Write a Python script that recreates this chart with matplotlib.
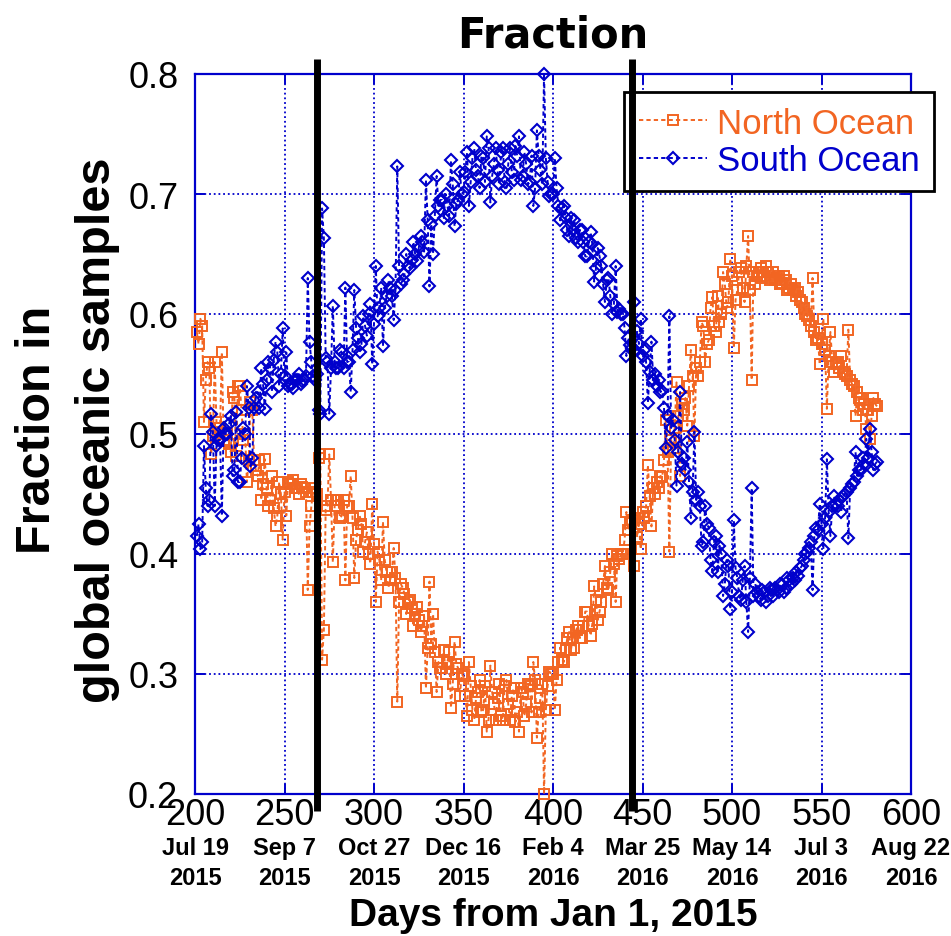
import matplotlib
matplotlib.use("Agg")
import matplotlib.pyplot as plt
import matplotlib.transforms as mtransforms

# Daily samples, days from Jan 1, 2015
days = list(range(201, 582))

# Fraction of samples from the northern ocean (one row per 10 days)
north = [
    0.585, 0.575, 0.596, 0.590, 0.510, 0.545, 0.560, 0.555, 0.483, 0.498,
    0.560, 0.510, 0.505, 0.505, 0.568, 0.495, 0.500, 0.500, 0.492, 0.485,
    0.535, 0.530, 0.482, 0.540, 0.540, 0.520, 0.495, 0.500, 0.460, 0.478,
    0.527, 0.520, 0.478, 0.470, 0.465, 0.478, 0.445, 0.458, 0.479, 0.455,
    0.440, 0.445, 0.465, 0.438, 0.423, 0.432, 0.460, 0.450, 0.412, 0.452,
    0.432, 0.460, 0.458, 0.458, 0.462, 0.455, 0.455, 0.450, 0.458, 0.456,
    0.455, 0.452, 0.370, 0.423, 0.440, 0.452, 0.455, 0.450, 0.480, 0.483,
    0.312, 0.337, 0.437, 0.440, 0.483, 0.445, 0.393, 0.440, 0.445, 0.445,
    0.430, 0.432, 0.445, 0.378, 0.440, 0.440, 0.465, 0.430, 0.380, 0.412,
    0.420, 0.432, 0.425, 0.402, 0.410, 0.418, 0.400, 0.392, 0.442, 0.408,
    0.360, 0.402, 0.395, 0.378, 0.427, 0.395, 0.385, 0.372, 0.378, 0.385,
    0.405, 0.380, 0.277, 0.360, 0.375, 0.372, 0.367, 0.350, 0.360, 0.362,
    0.355, 0.340, 0.350, 0.356, 0.345, 0.335, 0.340, 0.348, 0.288, 0.322,
    0.377, 0.325, 0.350, 0.318, 0.285, 0.310, 0.305, 0.305, 0.320, 0.300,
    0.310, 0.318, 0.272, 0.292, 0.327, 0.308, 0.305, 0.282, 0.300, 0.298,
    0.282, 0.265, 0.310, 0.290, 0.270, 0.262, 0.280, 0.285, 0.295, 0.268,
    0.270, 0.290, 0.252, 0.262, 0.307, 0.285, 0.275, 0.262, 0.280, 0.292,
    0.265, 0.262, 0.290, 0.295, 0.275, 0.262, 0.282, 0.288, 0.260, 0.268,
    0.252, 0.288, 0.285, 0.265, 0.275, 0.292, 0.290, 0.268, 0.310, 0.295,
    0.247, 0.268, 0.280, 0.292, 0.200, 0.270, 0.290, 0.302, 0.300, 0.300,
    0.270, 0.295, 0.310, 0.322, 0.312, 0.310, 0.320, 0.330, 0.335, 0.320,
    0.330, 0.322, 0.337, 0.340, 0.330, 0.330, 0.340, 0.352, 0.352, 0.340,
    0.332, 0.342, 0.373, 0.362, 0.345, 0.352, 0.360, 0.375, 0.390, 0.372,
    0.370, 0.385, 0.400, 0.392, 0.360, 0.398, 0.396, 0.400, 0.400, 0.412,
    0.435, 0.420, 0.426, 0.428, 0.390, 0.430, 0.414, 0.425, 0.404, 0.435,
    0.430, 0.440, 0.474, 0.448, 0.423, 0.455, 0.450, 0.460, 0.455, 0.465,
    0.464, 0.478, 0.512, 0.485, 0.402, 0.495, 0.488, 0.505, 0.543, 0.515,
    0.465, 0.525, 0.520, 0.530, 0.507, 0.540, 0.570, 0.548, 0.498, 0.555,
    0.548, 0.560, 0.593, 0.590, 0.560, 0.575, 0.578, 0.605, 0.614, 0.590,
    0.585, 0.615, 0.593, 0.600, 0.635, 0.625, 0.605, 0.610, 0.646, 0.632,
    0.572, 0.612, 0.620, 0.635, 0.638, 0.622, 0.610, 0.640, 0.665, 0.620,
    0.545, 0.635, 0.625, 0.632, 0.635, 0.638, 0.630, 0.632, 0.640, 0.635,
    0.628, 0.630, 0.635, 0.628, 0.630, 0.632, 0.625, 0.626, 0.632, 0.628,
    0.620, 0.622, 0.625, 0.620, 0.622, 0.615, 0.618, 0.612, 0.610, 0.605,
    0.600, 0.598, 0.595, 0.590, 0.630, 0.585, 0.578, 0.580, 0.558, 0.575,
    0.596, 0.570, 0.521, 0.565, 0.585, 0.560, 0.552, 0.558, 0.560, 0.555,
    0.565, 0.552, 0.550, 0.548, 0.587, 0.545, 0.542, 0.540, 0.515, 0.535,
    0.530, 0.530, 0.520, 0.525, 0.504, 0.520, 0.496, 0.515, 0.530, 0.525,
    0.523,
]

# Fraction of samples from the southern ocean (one row per 10 days)
south = [
    0.415, 0.425, 0.404, 0.410, 0.490, 0.455, 0.440, 0.445, 0.517, 0.502,
    0.440, 0.490, 0.495, 0.495, 0.432, 0.505, 0.500, 0.500, 0.508, 0.515,
    0.465, 0.470, 0.518, 0.460, 0.460, 0.480, 0.505, 0.500, 0.540, 0.522,
    0.473, 0.480, 0.522, 0.530, 0.535, 0.522, 0.555, 0.542, 0.521, 0.545,
    0.560, 0.555, 0.535, 0.562, 0.577, 0.568, 0.540, 0.550, 0.588, 0.548,
    0.568, 0.540, 0.542, 0.542, 0.538, 0.545, 0.545, 0.550, 0.542, 0.544,
    0.545, 0.548, 0.630, 0.577, 0.560, 0.548, 0.545, 0.550, 0.520, 0.517,
    0.688, 0.663, 0.563, 0.560, 0.517, 0.555, 0.607, 0.560, 0.555, 0.555,
    0.570, 0.568, 0.555, 0.622, 0.560, 0.560, 0.535, 0.570, 0.620, 0.588,
    0.580, 0.568, 0.575, 0.598, 0.590, 0.582, 0.600, 0.608, 0.558, 0.592,
    0.640, 0.598, 0.605, 0.622, 0.573, 0.605, 0.615, 0.628, 0.622, 0.615,
    0.595, 0.620, 0.723, 0.640, 0.625, 0.628, 0.633, 0.650, 0.640, 0.638,
    0.645, 0.660, 0.650, 0.644, 0.655, 0.665, 0.660, 0.652, 0.712, 0.678,
    0.623, 0.675, 0.650, 0.682, 0.715, 0.690, 0.695, 0.695, 0.680, 0.700,
    0.690, 0.682, 0.728, 0.708, 0.673, 0.692, 0.695, 0.718, 0.700, 0.702,
    0.718, 0.735, 0.690, 0.710, 0.730, 0.738, 0.720, 0.715, 0.705, 0.732,
    0.730, 0.710, 0.748, 0.738, 0.693, 0.715, 0.725, 0.738, 0.720, 0.708,
    0.735, 0.738, 0.710, 0.705, 0.725, 0.738, 0.718, 0.712, 0.740, 0.732,
    0.748, 0.712, 0.715, 0.735, 0.725, 0.708, 0.710, 0.732, 0.690, 0.705,
    0.753, 0.732, 0.720, 0.708, 0.800, 0.730, 0.710, 0.698, 0.700, 0.700,
    0.730, 0.705, 0.690, 0.678, 0.688, 0.690, 0.680, 0.670, 0.665, 0.680,
    0.670, 0.678, 0.663, 0.660, 0.670, 0.670, 0.660, 0.648, 0.648, 0.660,
    0.668, 0.658, 0.627, 0.638, 0.655, 0.648, 0.640, 0.625, 0.610, 0.628,
    0.630, 0.615, 0.600, 0.608, 0.640, 0.602, 0.604, 0.600, 0.600, 0.588,
    0.565, 0.580, 0.574, 0.572, 0.610, 0.570, 0.586, 0.575, 0.596, 0.565,
    0.570, 0.560, 0.526, 0.552, 0.577, 0.545, 0.550, 0.540, 0.545, 0.535,
    0.536, 0.522, 0.488, 0.515, 0.598, 0.505, 0.512, 0.495, 0.457, 0.485,
    0.535, 0.475, 0.480, 0.470, 0.493, 0.460, 0.430, 0.452, 0.502, 0.445,
    0.452, 0.440, 0.407, 0.410, 0.440, 0.425, 0.422, 0.395, 0.386, 0.410,
    0.415, 0.385, 0.407, 0.400, 0.365, 0.375, 0.395, 0.390, 0.354, 0.368,
    0.428, 0.388, 0.380, 0.365, 0.362, 0.378, 0.390, 0.360, 0.335, 0.380,
    0.455, 0.365, 0.375, 0.368, 0.365, 0.362, 0.370, 0.368, 0.360, 0.365,
    0.372, 0.370, 0.365, 0.372, 0.370, 0.368, 0.375, 0.374, 0.368, 0.372,
    0.380, 0.378, 0.375, 0.380, 0.378, 0.385, 0.382, 0.388, 0.390, 0.395,
    0.400, 0.402, 0.405, 0.410, 0.370, 0.415, 0.422, 0.420, 0.442, 0.425,
    0.404, 0.430, 0.479, 0.435, 0.415, 0.440, 0.448, 0.442, 0.440, 0.445,
    0.435, 0.448, 0.450, 0.452, 0.413, 0.455, 0.458, 0.460, 0.485, 0.465,
    0.470, 0.470, 0.480, 0.475, 0.496, 0.480, 0.504, 0.485, 0.470, 0.475,
    0.477,
]

x_ticks = [200, 250, 300, 350, 400, 450, 500, 550, 600]
date_lines = ["Jul 19", "Sep 7", "Oct 27", "Dec 16", "Feb 4",
              "Mar 25", "May 14", "Jul 3", "Aug 22"]
year_lines = ["2015", "2015", "2015", "2015", "2016",
              "2016", "2016", "2016", "2016"]
y_ticks = [0.2, 0.3, 0.4, 0.5, 0.6, 0.7, 0.8]
y_tick_labels = ["0.2", "0.3", "0.4", "0.5", "0.6", "0.7", "0.8"]
boundary_days = [268, 444]

ORANGE = "#f26522"
BLUE = "#0000cc"
SANS = ["Liberation Sans", "DejaVu Sans"]

W, H = 951, 937
fig = plt.figure(figsize=(W / 100, H / 100), dpi=100)
ax = fig.add_axes([195 / W, 1 - 795 / H, (911 - 195) / W, 720 / H])

ax.set_xlim(200, 600)
ax.set_ylim(0.2, 0.8)

ln_n, = ax.plot(days, north, color=ORANGE, lw=1.4, ls=(0, (2.2, 1.6)),
                marker="s", ms=7, mfc="none", mec=ORANGE, mew=1.4,
                label="North Ocean", zorder=3, clip_on=False)
ln_s, = ax.plot(days, south, color=BLUE, lw=1.4, ls=(0, (2.2, 1.6)),
                marker="D", ms=5.8, mfc="none", mec=BLUE, mew=1.5,
                label="South Ocean", zorder=4, clip_on=False)

# Season boundaries
for d in boundary_days:
    ax.plot([d, d], [0.1855, 0.8125], color="black", lw=5,
            solid_capstyle="butt", zorder=20, clip_on=False)

# Axes frame, ticks and grid
for sp in ax.spines.values():
    sp.set_color(BLUE)
    sp.set_linewidth(1.6)
ax.set_xticks(x_ticks)
ax.set_xticklabels([str(t) for t in x_ticks])
ax.set_yticks(y_ticks)
ax.set_yticklabels(y_tick_labels)
ax.tick_params(axis="both", which="major", direction="in", length=7,
               width=1.4, color=BLUE, top=True, right=True,
               labelsize=26, labelcolor="black")
ax.tick_params(axis="x", pad=2)
ax.tick_params(axis="y", pad=12)
for lab in ax.get_xticklabels() + ax.get_yticklabels():
    lab.set_family(SANS)
ax.grid(True, color=BLUE, ls=(0, (1, 1.6)), lw=1.3)
ax.set_axisbelow(True)

# Calendar dates under the day ticks
trans = mtransforms.blended_transform_factory(ax.transData, fig.transFigure)
for t, dl, yl in zip(x_ticks, date_lines, year_lines):
    ax.text(t, 1 - 855 / H, dl, transform=trans, ha="center", va="baseline",
            fontsize=17, fontweight="bold", family=SANS, clip_on=False)
    ax.text(t, 1 - 885 / H, yl, transform=trans, ha="center", va="baseline",
            fontsize=17, fontweight="bold", family=SANS, clip_on=False)

# Axis titles
fig.text(553 / W, 1 - 926 / H, "Days from Jan 1, 2015", ha="center",
         va="baseline", fontsize=28, fontweight="bold", family=SANS)
fig.text(50 / W, 1 - 430 / H, "Fraction in", rotation=90,
         rotation_mode="anchor", ha="center", va="baseline",
         fontsize=35, fontweight="bold", family=SANS)
fig.text(110 / W, 1 - 430 / H, "global oceanic samples", rotation=90,
         rotation_mode="anchor", ha="center", va="baseline",
         fontsize=35, fontweight="bold", family=SANS)
fig.text(553 / W, 1 - 47 / H, "Fraction", ha="center", va="baseline",
         fontsize=30, fontweight="bold", family=["DejaVu Sans"])

# Legend
leg = ax.legend(handles=[ln_n, ln_s], loc="upper left",
                bbox_to_anchor=(624 / W, 1 - 93 / H),
                bbox_transform=fig.transFigure, borderaxespad=0,
                fancybox=False, framealpha=1, edgecolor="black",
                prop={"family": SANS, "size": 25}, handlelength=1.96,
                handletextpad=0.3, borderpad=0.42, labelspacing=0.12)
leg.get_frame().set_linewidth(2)
leg.set_zorder(10)
for txt, c in zip(leg.get_texts(), [ORANGE, BLUE]):
    txt.set_color(c)

fig.savefig("out.png", dpi=100)
